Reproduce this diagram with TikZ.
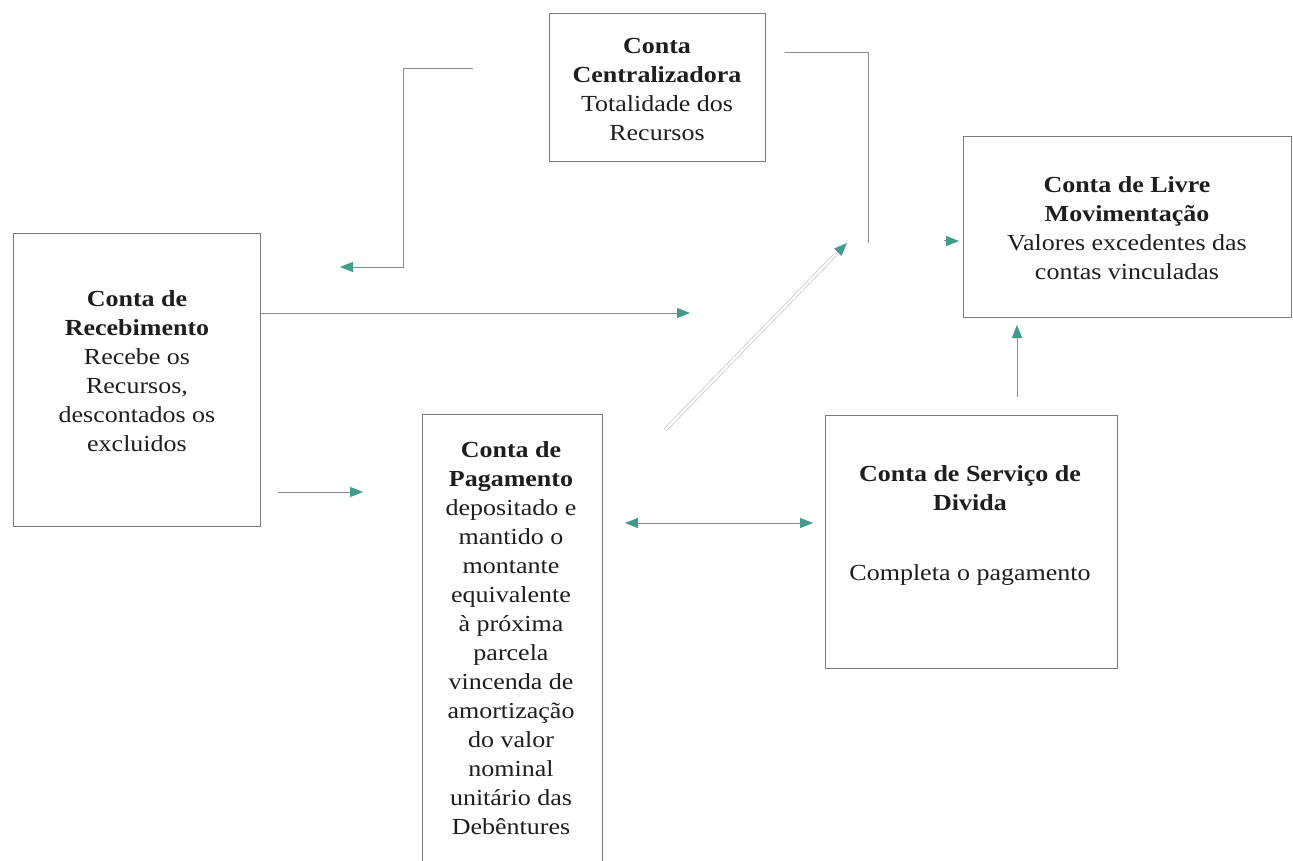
\documentclass[tikz,border=0pt]{standalone}
\usepackage{fontspec}
\setmainfont{Liberation Serif}[FakeStretch=1.13]
\usetikzlibrary{arrows.meta}
\definecolor{linec}{HTML}{8C8C8C}
\definecolor{boxc}{HTML}{7A7A7A}
\definecolor{tipc}{HTML}{3F9C88}
\definecolor{txtc}{HTML}{1E1E1E}
\begin{document}
\begin{tikzpicture}[x=1pt,y=-1pt,
  box/.style={draw=boxc, line width=1.2pt, inner sep=0pt, anchor=north west},
  txt/.style={align=center, text=txtc, inner sep=0pt, font=\fontsize{23}{29}\selectfont},
  conn/.style={draw=linec, line width=1pt},
  arr/.style={conn, -{Triangle[length=13pt,width=10pt,color=tipc]}},
  darr/.style={conn, {Triangle[length=13pt,width=10pt,color=tipc]}-{Triangle[length=13pt,width=10pt,color=tipc]}},
  dline/.style={draw=linec!45, line width=0.8pt, double=white, double distance=2.2pt}]
\fill[white] (0,0) rectangle (1293,861);
\useasboundingbox (0,0) rectangle (1293,861);
\clip (0,0) rectangle (1293,861);
% boxes
\node[box, minimum width=216pt, minimum height=148pt] (cent) at (549,13) {};
\node[box, minimum width=328pt, minimum height=181pt] (livre) at (963,136) {};
\node[box, minimum width=247pt, minimum height=293pt] (receb) at (13,233) {};
\node[box, minimum width=180pt, minimum height=470pt] (pag) at (422,414) {};
\node[box, minimum width=292pt, minimum height=253pt] (serv) at (825,415) {};
% texts
\node[txt] (centt) at (657,89) {\textbf{Conta}\\\textbf{Centralizadora}\\Totalidade dos\\Recursos};
\node[txt] (livret) at (1127,228) {\textbf{Conta de Livre}\\\textbf{Movimentação}\\Valores excedentes das\\contas vinculadas};
\node[txt] (recebt) at (137,371) {\textbf{Conta de}\\\textbf{Recebimento}\\Recebe os\\Recursos,\\descontados os\\excluidos};
\node[txt] (pagt) at (511,638) {\textbf{Conta de}\\\textbf{Pagamento}\\depositado e\\mantido o\\montante\\equivalente\\à próxima\\parcela\\vincenda de\\amortização\\do valor\\nominal\\unitário das\\Debêntures};
\node[txt] (servt) at (970,525) {\textbf{Conta de Serviço de}\\\textbf{Divida}\\[41pt]Completa o pagamento};
% connector coordinates
\coordinate (c1s) at (473,69);
\coordinate (c1e) at (340,267);
\coordinate (c2s) at (785,53);
\coordinate (c2e) at (868,243);
\coordinate (c3s) at (944,241);
\coordinate (c3e) at (959,241);
\coordinate (c4s) at (665,430);
\coordinate (c4m) at (836,254);
\coordinate (c4e) at (847,243);
\coordinate (c5e) at (690,313);
\coordinate (c6s) at (278,492);
\coordinate (c6e) at (363,492);
\coordinate (c7s) at (625,523);
\coordinate (c7e) at (813,523);
\coordinate (c8s) at (1017,397);
\coordinate (c8e) at (1017,325);
% connectors
\draw[arr] (c1s) -- (403,69) -- (403,267) -- (c1e);
\draw[conn] (c2s) -| (c2e);
\draw[arr] (c3s) -- (c3e);
\draw[dline] (c4s) -- (c4m);
\draw[arr, draw=linec!45] (c4m) -- (c4e);
\draw[arr] (receb.north east |- c5e) -- (c5e);
\draw[arr] (c6s) -- (c6e);
\draw[darr] (c7s) -- (c7e);
\draw[arr] (c8s) -- (c8e);
\end{tikzpicture}
\end{document}
